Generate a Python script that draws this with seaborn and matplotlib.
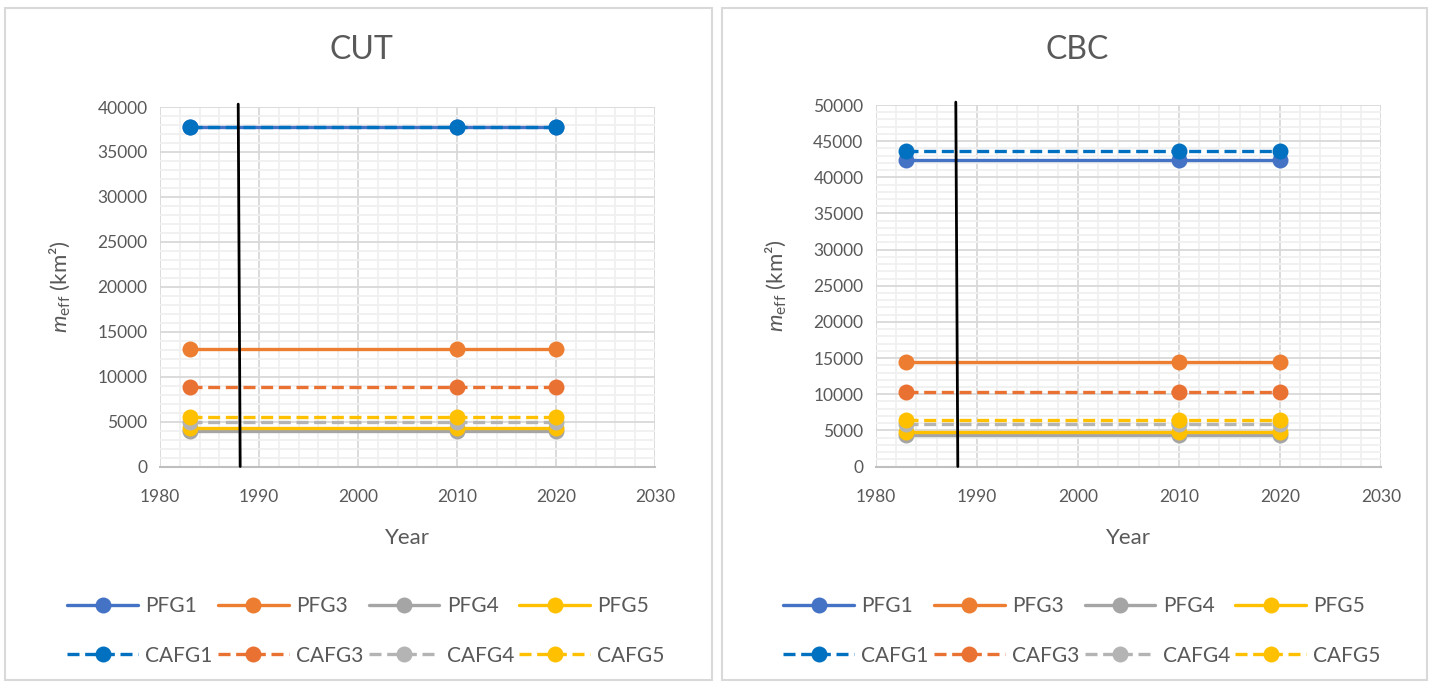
import matplotlib
matplotlib.use("Agg")
import matplotlib.pyplot as plt
from matplotlib.patches import Rectangle
from matplotlib.lines import Line2D
from matplotlib.ticker import MultipleLocator
import seaborn as sns
import pandas as pd

sns.set_theme(style="white")
plt.rcParams["font.family"] = ["Lato", "DejaVu Sans"]
plt.rcParams["mathtext.fontset"] = "custom"
plt.rcParams["mathtext.it"] = "Lato:italic"
plt.rcParams["mathtext.rm"] = "Lato"

years = [1983, 2010, 2020]
series_names = ["PFG1", "PFG3", "PFG4", "PFG5", "CAFG1", "CAFG3", "CAFG4", "CAFG5"]

# effective mesh size (km²) per functional group
cut_pfg1 = [37800, 37800, 37800]
cut_pfg3 = [13050, 13050, 13050]
cut_pfg4 = [3900, 3900, 3900]
cut_pfg5 = [4300, 4300, 4300]
cut_cafg1 = [37800, 37800, 37800]
cut_cafg3 = [8900, 8900, 8900]
cut_cafg4 = [4950, 4950, 4950]
cut_cafg5 = [5500, 5500, 5500]

cbc_pfg1 = [42400, 42400, 42400]
cbc_pfg3 = [14450, 14450, 14450]
cbc_pfg4 = [4350, 4350, 4350]
cbc_pfg5 = [4750, 4750, 4750]
cbc_cafg1 = [43700, 43700, 43700]
cbc_cafg3 = [10350, 10350, 10350]
cbc_cafg4 = [5900, 5900, 5900]
cbc_cafg5 = [6500, 6500, 6500]

marker_year = 1988

colors = {
    "PFG1": "#4472C4", "PFG3": "#ED7D31", "PFG4": "#A5A5A5", "PFG5": "#FFC000",
    "CAFG1": "#0070C0", "CAFG3": "#E97132", "CAFG4": "#B4B4B4", "CAFG5": "#FFC000",
}

W, H = 1432, 684
panels = [
    ("CUT", [cut_pfg1, cut_pfg3, cut_pfg4, cut_pfg5, cut_cafg1, cut_cafg3, cut_cafg4, cut_cafg5], 40000,
     [160 / W, 1 - 466.5 / H, 495 / W, 359.5 / H], (5, 712), 366),
    ("CBC", [cbc_pfg1, cbc_pfg3, cbc_pfg4, cbc_pfg5, cbc_cafg1, cbc_cafg3, cbc_cafg4, cbc_cafg5], 50000,
     [876 / W, 1 - 466.5 / H, 505 / W, 361.5 / H], (722, 1427), 1082),
]

fig = plt.figure(figsize=(W / 100, H / 100), dpi=100)
fig.patch.set_facecolor("white")

text_color = "#595959"
dash = (3.6, 1.7)
lw = 2.4
ms = 11.5


def handle(name):
    dashed = name.startswith("CAFG")
    h = Line2D([], [], color=colors[name], linewidth=lw, marker="o",
               markersize=ms, markeredgewidth=0,
               linestyle="--" if dashed else "-")
    if dashed:
        h.set_dashes(dash)
    return h


order = ["PFG1", "CAFG1", "PFG3", "CAFG3", "PFG4", "CAFG4", "PFG5", "CAFG5"]

for title, values, ymax, rect, (x0, x1), leg_x in panels:
    # panel frame
    fig.patches.append(Rectangle((x0 / W, 4 / H), (x1 - x0) / W, (H - 12) / H,
                                 transform=fig.transFigure, fill=False,
                                 edgecolor="#d9d9d9", linewidth=1.5, zorder=0))
    ax = fig.add_axes(rect)
    for name, vals in zip(series_names, values):
        dashed = name.startswith("CAFG")
        df = pd.DataFrame({"Year": years, "m": vals})
        sns.lineplot(data=df, x="Year", y="m", ax=ax, color=colors[name],
                     linewidth=lw, marker="o", markersize=ms,
                     markeredgewidth=0, linestyle="--" if dashed else "-",
                     zorder=3)
        if dashed:
            ax.lines[-1].set_dashes(dash)
    ax.plot([marker_year + 0.1, marker_year - 0.1], [0, ymax * 1.008],
            color="black", linewidth=2, zorder=5, clip_on=False)

    ax.set_xlim(1980, 2030)
    ax.set_ylim(0, ymax)
    ax.xaxis.set_major_locator(MultipleLocator(10))
    ax.xaxis.set_minor_locator(MultipleLocator(2))
    ax.yaxis.set_major_locator(MultipleLocator(5000))
    ax.yaxis.set_minor_locator(MultipleLocator(1000))
    ax.grid(which="major", color="#d9d9d9", linewidth=1.3, zorder=0)
    ax.grid(which="minor", color="#f0f0f0", linewidth=1.3, zorder=0)
    ax.set_axisbelow(True)
    for s in ax.spines.values():
        s.set_visible(False)
    ax.spines["bottom"].set_visible(True)
    ax.spines["bottom"].set_color("#bfbfbf")
    ax.spines["bottom"].set_linewidth(1.5)
    ax.tick_params(axis="both", which="both", length=0, labelsize=12.5,
                   labelcolor=text_color)
    ax.tick_params(axis="y", pad=9)
    ax.tick_params(axis="x", pad=16)
    ax.set_xlabel("Year", fontsize=16, color=text_color)
    ax.set_ylabel(r"$\mathit{m}_{\mathrm{eff}}$ (km²)", fontsize=16,
                  color=text_color)
    ax.xaxis.set_label_coords(0.5, -(538 - 466.5) / (rect[3] * H), transform=ax.transAxes)
    ax.xaxis.label.set_va("center")
    ax.yaxis.set_label_coords(-100 / (rect[2] * W), 0.5, transform=ax.transAxes)
    ax.yaxis.label.set_va("center")

    cx = (x0 + x1) / 2
    fig.text((cx + 3) / W, 1 - 50 / H, title, fontsize=23, color=text_color,
             ha="center", va="center")

    fig.legend([handle(n) for n in order], order, ncol=4,
               loc="center", bbox_to_anchor=(leg_x / W, 1 - 631 / H),
               frameon=False, fontsize=15, handlelength=3.4,
               handletextpad=0.35, columnspacing=0.25,
               labelspacing=1.4, labelcolor=text_color)

fig.savefig("out.png", dpi=100, facecolor="white")
